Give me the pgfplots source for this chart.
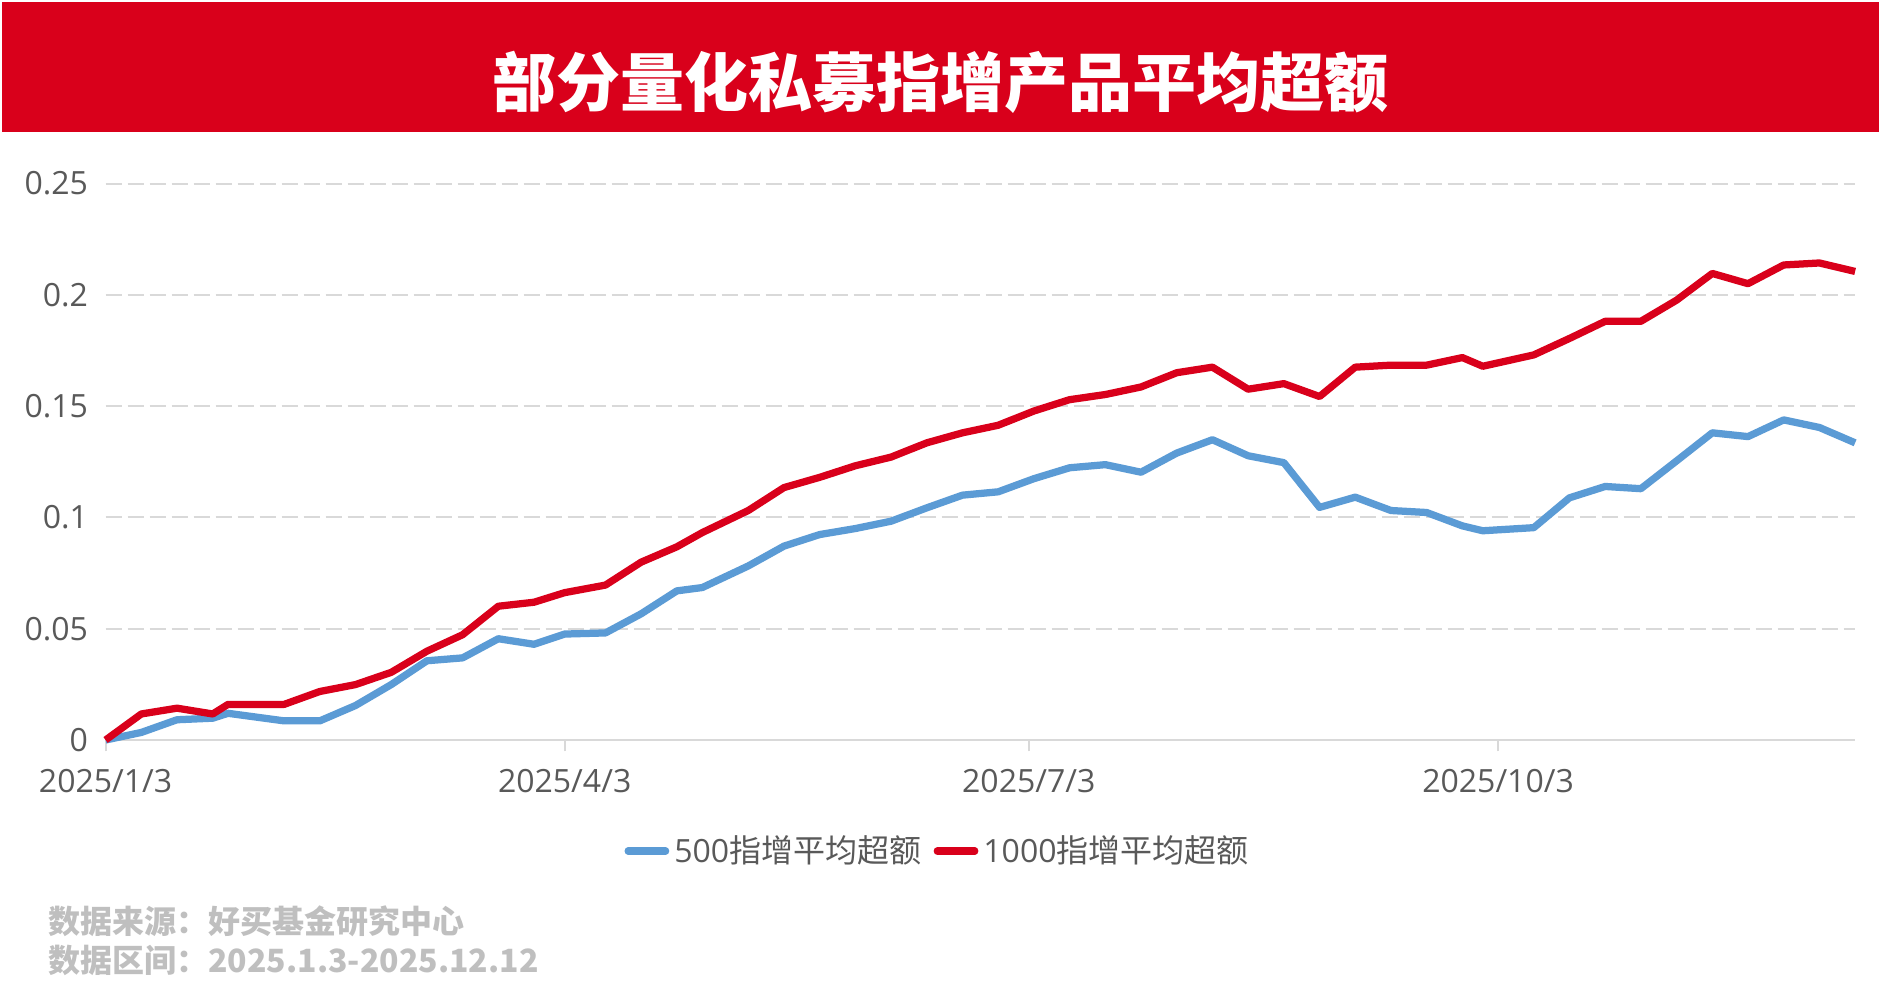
\documentclass[border=0pt]{standalone}
\usepackage{fontspec}
\setmainfont{Open Sans}
\newfontfamily\cjk{Noto Sans CJK SC}
\usepackage{pgfplots}
\usepackage{pgfplotstable}
\pgfplotsset{compat=1.18}
\definecolor{titlered}{HTML}{D9001B}
\definecolor{lineblue}{HTML}{5B9BD5}
\definecolor{txtgray}{HTML}{595959}
\definecolor{gridgray}{HTML}{D9D9D9}
\definecolor{footgray}{HTML}{BFBFBF}

% day offset from 2025-01-03, average excess return
\pgfplotstableread{
day val
0 0
7 0.0034
14 0.0091
21 0.0098
24 0.0120
35 0.0086
42 0.0086
49 0.0155
56 0.0249
63 0.0356
70 0.0369
77 0.0455
84 0.0430
90 0.0476
98 0.0481
105 0.0567
112 0.0670
117 0.0685
126 0.0782
133 0.0871
140 0.0923
147 0.0950
154 0.0983
161 0.1043
168 0.1100
175 0.1115
182 0.1174
189 0.1223
196 0.1237
203 0.1203
210 0.1289
217 0.1349
224 0.1277
231 0.1246
238 0.1045
245 0.1091
252 0.1031
259 0.1022
266 0.0962
270 0.0940
280 0.0954
287 0.1088
294 0.1139
301 0.1129
308 0.1254
315 0.1380
322 0.1363
329 0.1438
336 0.1404
343 0.1335
}\blue

\pgfplotstableread{
day val
0 0
7 0.0117
14 0.0143
21 0.0117
24 0.0160
35 0.0160
42 0.0218
49 0.0249
56 0.0304
63 0.0399
70 0.0473
77 0.0601
84 0.0619
90 0.0662
98 0.0696
105 0.0799
112 0.0868
117 0.0932
126 0.1031
133 0.1134
140 0.1180
147 0.1232
154 0.1271
161 0.1335
168 0.1380
175 0.1414
182 0.1478
189 0.1529
196 0.1552
203 0.1586
210 0.1650
217 0.1675
224 0.1576
231 0.1601
238 0.1543
245 0.1675
252 0.1684
259 0.1684
266 0.1718
270 0.1679
280 0.1730
287 0.1804
294 0.1881
301 0.1881
308 0.1976
315 0.2096
322 0.2050
329 0.2134
336 0.2143
343 0.2105
}\red

\begin{document}
\begin{tikzpicture}
\path[use as bounding box] (0,0) rectangle (752.4pt,394.8pt);
\fill[white] (0,0) rectangle (752.4pt,394.8pt);
\fill[titlered] (0.8pt,342pt) rectangle (751.6pt,394pt);
\node[text=white, font=\fontsize{25.6}{30}\selectfont\cjk\bfseries] at (376.2pt,362pt) {部分量化私募指增产品平均超额};
\begin{axis}[
  at={(42.24pt,98.8pt)}, anchor=south west,
  scale only axis, width=699.8pt, height=222.6pt,
  xmin=0, xmax=343, ymin=0, ymax=0.25,
  clip=false,
  axis x line*=bottom, axis y line*=left,
  y axis line style={draw=none},
  x axis line style={draw=gridgray, line width=0.8pt, -},
  xtick={0,90,181,273},
  xticklabels={2025/1/3,2025/4/3,2025/7/3,2025/10/3},
  ytick={0,0.05,0.1,0.15,0.2,0.25},
  yticklabels={0,0.05,0.1,0.15,0.2,0.25},
  ymajorgrids,
  grid style={gridgray, line width=0.8pt, dash pattern=on 6.4pt off 2.4pt},
  xtick style={draw=gridgray, line width=0.8pt},
  ytick style={draw=none},
  tick align=outside, major tick length=4.5pt,
  ticklabel style={text=txtgray, font=\fontsize{12.8}{15}\selectfont},
  xticklabel style={yshift=-3.5pt},
  yticklabel style={xshift=1pt},
  legend columns=2,
  legend style={at={(0.4764,-0.1995)}, anchor=center, draw=none, fill=none,
    font=\fontsize{12.8}{15}\selectfont, text=txtgray,
    /tikz/every even column/.append style={column sep=3pt}},
  legend image code/.code={\draw[#1, line cap=round] (0pt,0pt) -- (15pt,0pt);},
]
\addplot[lineblue, line width=2.9pt, line join=round, no markers] table[x=day, y=val] {\blue};
\addlegendentry{500{\cjk 指增平均超额}}
\addplot[titlered, line width=2.9pt, line join=round, no markers] table[x=day, y=val] {\red};
\addlegendentry{1000{\cjk 指增平均超额}}
\end{axis}
\node[anchor=west, inner sep=0pt, text=footgray, font=\fontsize{12.8}{15}\selectfont\cjk\bfseries] at (19.2pt,26.4pt) {数据来源：好买基金研究中心};
\node[anchor=west, inner sep=0pt, text=footgray, font=\fontsize{12.8}{15}\selectfont\cjk\bfseries] at (19.2pt,10.8pt) {数据区间：2025.1.3-2025.12.12};
\end{tikzpicture}
\end{document}
